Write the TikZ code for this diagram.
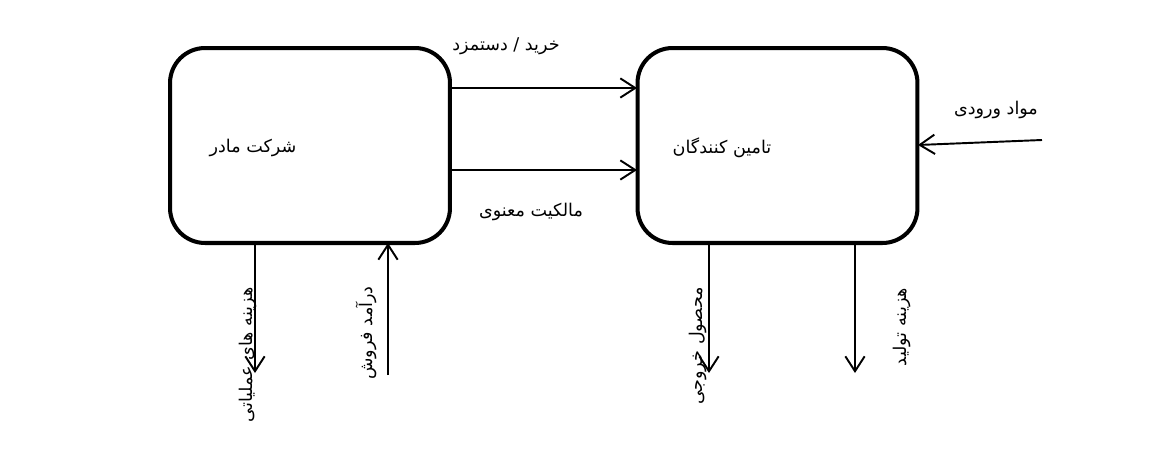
\documentclass[tikz,border=0pt]{standalone}
\usepackage{fontspec}
\newfontfamily\arabicfont[Script=Arabic]{DejaVu Sans}
\TeXXeTstate=1
\usetikzlibrary{arrows.meta}
\begin{document}
\begin{tikzpicture}[x=0.02cm,y=-0.02cm,
  box/.style={draw,line width=2.3pt,rounded corners=0.7cm,minimum width=5.6cm,minimum height=3.9cm,inner sep=0pt},
  arr/.style={line width=1.1pt,-{Straight Barb[length=8.5pt,width=11pt,line width=1.1pt]}},
  lbl/.style={font=\arabicfont\fontsize{10}{12}\selectfont,inner sep=0pt}]
\useasboundingbox (0,0) rectangle (1164,450);
\node[box] (L) at (310,145.5) {};
\node[box] (R) at (777.5,145.5) {};
\node[lbl] (tL) at (253,148) {\beginR شرکت مادر\endR};
\node[lbl] (tR) at (722,148) {\beginR تامین کنندگان\endR};
% horizontal arrows
\coordinate (a1s) at (452,88);
\coordinate (a1e) at (637,88);
\coordinate (a2s) at (452,170);
\coordinate (a2e) at (637,170);
\draw[arr] (a1s) -- (a1e);
\draw[arr] (a2s) -- (a2e);
\node[lbl] (l1) at (506,46) {\beginR خرید / دستمزد\endR};
\node[lbl] (l2) at (531,212) {\beginR مالکیت معنوی\endR};
% input arrow
\coordinate (ins) at (1042,140);
\coordinate (ine) at (918,145);
\draw[arr] (ins) -- (ine);
\node[lbl] (l3) at (996,110) {\beginR مواد ورودی\endR};
% vertical arrows
\coordinate (v1s) at (255,243);
\coordinate (v1e) at (255,373);
\draw[arr] (v1s) -- (v1e);
\node[lbl,rotate=90] (l4) at (248,355) {\beginR هزینه های عملیاتی\endR};
\coordinate (v2s) at (388,375);
\coordinate (v2e) at (388,243);
\draw[arr] (v2s) -- (v2e);
\node[lbl,rotate=90] (l5) at (366,333) {\beginR درآمد فروش\endR};
\coordinate (v3s) at (709,243);
\coordinate (v3e) at (709,373);
\draw[arr] (v3s) -- (v3e);
\node[lbl,rotate=90] (l6) at (698,346) {\beginR محصول خروجی\endR};
\coordinate (v4s) at (855,243);
\coordinate (v4e) at (855,373);
\draw[arr] (v4s) -- (v4e);
\node[lbl,rotate=90] (l7) at (902,327) {\beginR هزینه تولید\endR};
\end{tikzpicture}
\end{document}
